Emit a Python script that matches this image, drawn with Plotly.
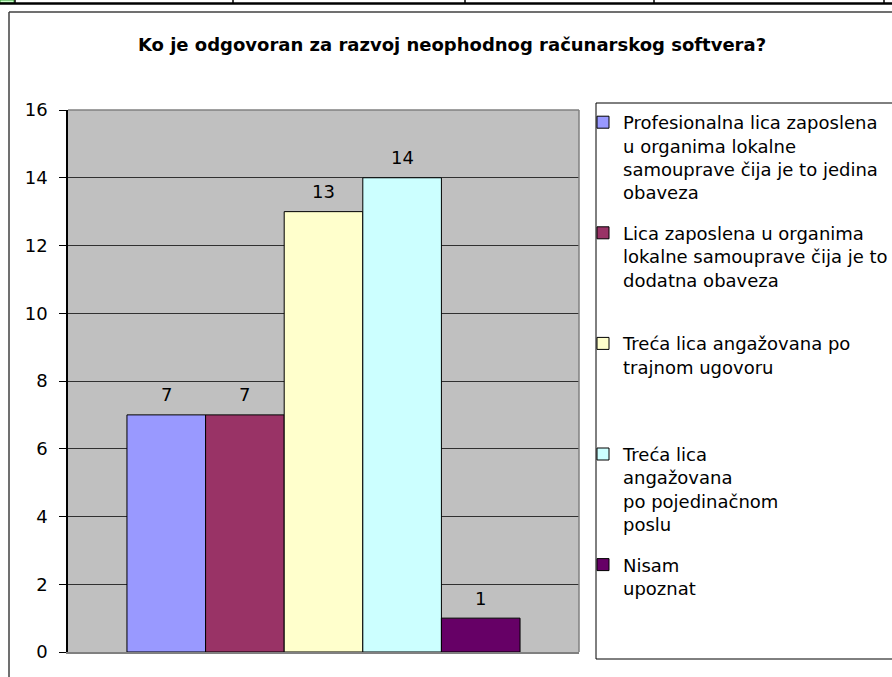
import plotly.graph_objects as go

# ---- data ----
series_names = [
    "Profesionalna lica zaposlena<br>u organima lokalne<br>samouprave čija je to jedina<br>obaveza",
    "Lica zaposlena u organima<br>lokalne samouprave čija je to<br>dodatna obaveza",
    "Treća lica angažovana po<br>trajnom ugovoru",
    "Treća lica<br>angažovana<br>po pojedinačnom<br>poslu",
    "Nisam<br>upoznat",
]
values = [7, 7, 13, 14, 1]
colors = ["#9999FF", "#993366", "#FFFFCC", "#CCFFFF", "#660066"]
y_ticks = [0, 2, 4, 6, 8, 10, 12, 14, 16]
title_text = "Ko je odgovoran za razvoj neophodnog računarskog softvera?"

W, H = 892, 677
L, R, T, B = 68, 313, 110, 25
PW, PH = W - L - R, H - T - B


def px(x):
    return (x - L) / PW


def py(y):
    return (H - B - y) / PH


FONT = "DejaVu Sans"
fig = go.Figure()

max_lines = max(n.count("<br>") + 1 for n in series_names)
for i, (name, v, c) in enumerate(zip(series_names, values, colors)):
    pad = "<br> " * (max_lines - (name.count("<br>") + 1))
    fig.add_trace(go.Bar(
        x=[i], y=[v], name=name + pad, width=1,
        marker=dict(color=c, line=dict(color="#000000", width=1)),
        legendgroup=f"g{i}", hoverinfo="skip",
    ))
    fig.add_annotation(x=i, y=v, text=str(v), showarrow=False, yshift=20,
                       font=dict(family=FONT, size=18, color="#000000"))

shapes = []
# top spreadsheet strip
shapes.append(dict(type="rect", xref="paper", yref="paper", x0=px(0), x1=px(14), y0=py(0), y1=py(3),
                   fillcolor="#CCFFCC", line=dict(color="#339933", width=1)))
shapes.append(dict(type="line", xref="paper", yref="paper", x0=px(0), x1=px(900), y0=py(3.5), y1=py(3.5),
                   line=dict(color="#000000", width=2.5)))
for vx in [15, 233, 465, 654, 884]:
    shapes.append(dict(type="line", xref="paper", yref="paper", x0=px(vx), x1=px(vx), y0=py(-2), y1=py(3),
                       line=dict(color="#000000", width=1.5)))
# chart area border
shapes.append(dict(type="line", xref="paper", yref="paper", x0=px(9), x1=px(900), y0=py(12), y1=py(12),
                   line=dict(color="#404040", width=1.5)))
shapes.append(dict(type="line", xref="paper", yref="paper", x0=px(9), x1=px(9), y0=py(12), y1=py(690),
                   line=dict(color="#404040", width=1.5)))
# legend box
shapes.append(dict(type="rect", xref="paper", yref="paper", x0=px(596), x1=px(905), y0=py(659), y1=py(103),
                   line=dict(color="#000000", width=1)))
# plot area border top / right
shapes.append(dict(type="line", xref="paper", yref="paper", x0=0, x1=1, y0=1, y1=1,
                   line=dict(color="#808080", width=1.5)))
shapes.append(dict(type="line", xref="paper", yref="paper", x0=1, x1=1, y0=0, y1=1,
                   line=dict(color="#808080", width=1.5)))

fig.update_layout(
    width=W, height=H,
    margin=dict(l=L, r=R, t=T, b=B, autoexpand=False),
    paper_bgcolor="#FFFFFF", plot_bgcolor="#C0C0C0",
    font=dict(family=FONT, size=18, color="#000000"),
    title=dict(text="<b>" + title_text + "</b>", x=px(452), xanchor="center", xref="paper",
               y=1 - 45 / H, yanchor="middle", yref="container",
               font=dict(family=FONT, size=18, color="#000000")),
    barmode="overlay", showlegend=True,
    legend=dict(x=px(583), xanchor="left", xref="paper",
                y=1 - 104 / H, yanchor="top", yref="container", maxheight=1,
                bgcolor="rgba(0,0,0,0)", borderwidth=0, valign="top",
                font=dict(family=FONT, size=18, color="#000000"),
                tracegroupgap=14, traceorder="grouped"),
    shapes=shapes,
    xaxis=dict(range=[-1.25, 5.25], showticklabels=False, showgrid=False, zeroline=False,
               showline=True, linecolor="#808080", linewidth=1.5, ticks=""),
    yaxis=dict(range=[0, 16], tickvals=y_ticks, ticktext=[str(t) for t in y_ticks],
               showgrid=True, gridcolor="#303030", gridwidth=1, zeroline=False,
               showline=True, linecolor="#000000", linewidth=1.5,
               ticks="outside", ticklen=7, tickcolor="#000000", ticklabelstandoff=8,
               tickfont=dict(family=FONT, size=18, color="#000000")),
)

fig.write_html("out.html", config={"displayModeBar": False},
               post_script="document.body.style.margin='0';document.body.style.padding='0';"
                           "document.body.style.overflow='hidden';")
